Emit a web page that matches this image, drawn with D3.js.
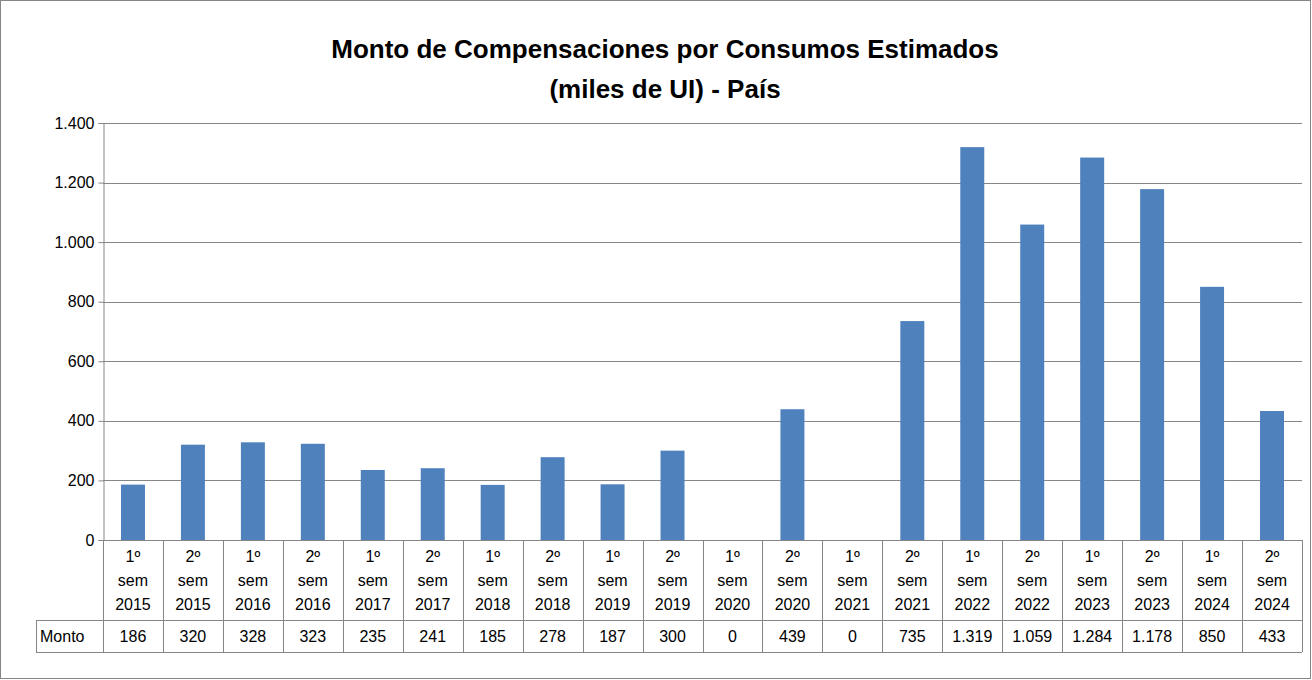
<!DOCTYPE html>
<html>
<head>
<meta charset="utf-8">
<script src="https://cdn.jsdelivr.net/npm/d3@7"></script>
<style>
  body { margin: 0; background: #fff; }
  text { font-family: "Liberation Sans", Arial, sans-serif; fill: #000; }
</style>
</head>
<body>
<svg id="chart" width="1312" height="680"></svg>
<script>
var categories = ['1º sem 2015','2º sem 2015','1º sem 2016','2º sem 2016','1º sem 2017','2º sem 2017',
  '1º sem 2018','2º sem 2018','1º sem 2019','2º sem 2019','1º sem 2020','2º sem 2020','1º sem 2021',
  '2º sem 2021','1º sem 2022','2º sem 2022','1º sem 2023','2º sem 2023','1º sem 2024','2º sem 2024'];
var monto = [186, 320, 328, 323, 235, 241, 185, 278, 187, 300, 0, 439, 0, 735, 1319, 1059, 1284, 1178, 850, 433];
var yTicks = [0, 200, 400, 600, 800, 1000, 1200, 1400];

(function () {
var svg = d3.select('#chart'),
    plotLeft = 103, plotRight = 1302, plotTop = 123, plotBottom = 540,
    tableMid = 620, tableBottom = 652, labelLeft = 36;

var fmt = d3.formatLocale({decimal: ',', thousands: '.', grouping: [3], currency: ['', '']}).format(',.0f');

svg.append('rect').attr('x', 0.5).attr('y', 0.5).attr('width', 1310).attr('height', 678)
  .attr('fill', '#fff').attr('stroke', '#868686');

svg.append('text').attr('x', 665).attr('y', 58).attr('text-anchor', 'middle')
  .style('font-size', '26px').style('font-weight', 'bold').text('Monto de Compensaciones por Consumos Estimados');
svg.append('text').attr('x', 665).attr('y', 98).attr('text-anchor', 'middle')
  .style('font-size', '26px').style('font-weight', 'bold').text('(miles de UI) - País');

var x = d3.scaleBand().domain(categories).range([plotLeft, plotRight]).paddingInner(0.6).paddingOuter(0.3);
var xCell = d3.scaleBand().domain(categories).range([plotLeft, plotRight]);
var y = d3.scaleLinear().domain([0, 1400]).range([plotBottom, plotTop]);

// gridlines
svg.append('g').selectAll('line').data(yTicks).enter().append('line')
  .attr('x1', plotLeft).attr('x2', plotRight)
  .attr('y1', function (d) { return Math.round(y(d)) + 0.5; })
  .attr('y2', function (d) { return Math.round(y(d)) + 0.5; })
  .attr('stroke', '#868686');

// y axis
var yAxis = svg.append('g').attr('transform', 'translate(' + (plotLeft + 0.5) + ',0)')
  .call(d3.axisLeft(y).tickValues(yTicks).tickFormat(fmt).tickSize(5).tickPadding(4));
yAxis.selectAll('line, path').attr('stroke', '#868686');
yAxis.selectAll('text').style('font-size', '16px').style('font-family', '"Liberation Sans", Arial, sans-serif');

// bars
svg.append('g').selectAll('rect').data(monto).enter().append('rect')
  .attr('x', function (d, i) { return x(categories[i]); })
  .attr('width', x.bandwidth())
  .attr('y', function (d) { return y(d); })
  .attr('height', function (d) { return plotBottom - y(d); })
  .attr('fill', '#4F81BD');

// data table
var tbl = svg.append('g').attr('stroke', '#868686');
tbl.append('line').attr('x1', labelLeft).attr('x2', plotRight).attr('y1', tableMid + 0.5).attr('y2', tableMid + 0.5);
tbl.append('line').attr('x1', labelLeft).attr('x2', plotRight).attr('y1', tableBottom + 0.5).attr('y2', tableBottom + 0.5);
tbl.append('line').attr('x1', labelLeft + 0.5).attr('x2', labelLeft + 0.5).attr('y1', tableMid).attr('y2', tableBottom);
tbl.selectAll('line.v').data(categories.concat(['end'])).enter().append('line')
  .attr('class', 'v')
  .attr('x1', function (d, i) { return Math.round(plotLeft + i * xCell.bandwidth()) + 0.5; })
  .attr('x2', function (d, i) { return Math.round(plotLeft + i * xCell.bandwidth()) + 0.5; })
  .attr('y1', plotBottom).attr('y2', tableBottom);

var catLabels = svg.append('g').selectAll('text').data(categories).enter().append('text')
  .attr('text-anchor', 'middle').style('font-size', '16px')
  .attr('transform', function (d) { return 'translate(' + (xCell(d) + xCell.bandwidth() / 2) + ',0)'; });
catLabels.each(function (d) {
  var parts = d.split(' '), t = d3.select(this);
  parts.forEach(function (p, k) { t.append('tspan').attr('x', 0).attr('y', 562 + k * 24).text(p); });
});

svg.append('text').attr('x', 40).attr('y', 642).style('font-size', '16px').text('Monto');
svg.append('g').selectAll('text').data(monto).enter().append('text')
  .attr('x', function (d, i) { return xCell(categories[i]) + xCell.bandwidth() / 2; })
  .attr('y', 642).attr('text-anchor', 'middle').style('font-size', '16px')
  .text(function (d) { return fmt(d); });
})();
</script>
</body>
</html>
